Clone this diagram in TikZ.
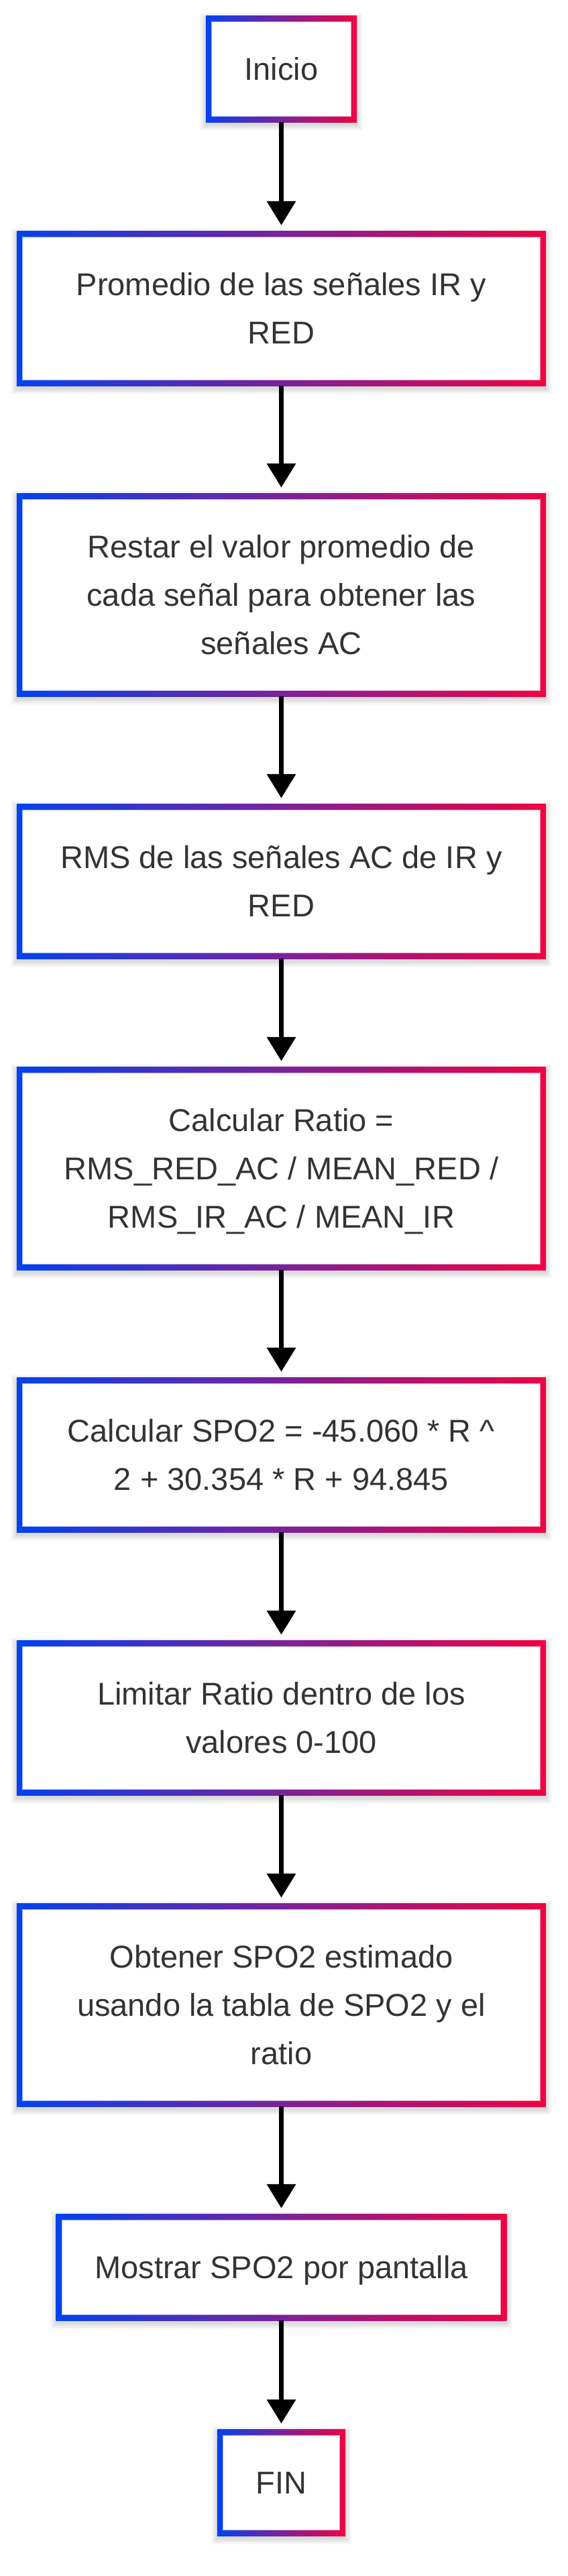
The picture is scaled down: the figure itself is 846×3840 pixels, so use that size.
\documentclass[tikz,border=0pt]{standalone}
\usepackage{fontspec}
\setmainfont{Liberation Sans}
\usetikzlibrary{arrows.meta,backgrounds}
\definecolor{gblue}{RGB}{3,66,240}
\definecolor{gred}{RGB}{240,2,66}
\definecolor{txtc}{RGB}{51,51,51}
\newcommand{\lnstrut}{\rule[-19.7pt]{0pt}{72pt}}
\tikzset{
  stepbox/.style={draw=none, inner xsep=57.5pt, inner ysep=43pt, align=center,
    text=txtc, font=\fontsize{47pt}{72pt}\selectfont},
  widebox/.style={stepbox, minimum width=789pt},
  flowarrow/.style={line width=7pt, -{Triangle[width=42pt,length=36pt]}, shorten >=9pt, black}
}
\newcommand{\gbox}[1]{%
  \begin{scope}[on background layer]
    \foreach \k in {1,...,9}{
      \fill[black,opacity=0.017] ([shift={(-\k*1pt,-\k*1pt-4pt)}]#1.south west) rectangle ([shift={(\k*1pt,\k*1pt-4pt)}]#1.north east);
    }
    \shade[left color=gblue, right color=gred] (#1.south west) rectangle (#1.north east);
    \fill[white,opacity=0.6] ([shift={(8pt,8pt)}]#1.south west) rectangle ([shift={(-8pt,-8pt)}]#1.north east);
    \fill[white] ([shift={(9.5pt,9.5pt)}]#1.south west) rectangle ([shift={(-9.5pt,-9.5pt)}]#1.north east);
  \end{scope}%
}
\begin{document}
\begin{tikzpicture}
\begin{scope}[on background layer]
\fill[white] (0pt,0pt) rectangle (846pt,-3840pt);
\end{scope}
\useasboundingbox (0pt,0pt) rectangle (846pt,-3840pt);

\node[stepbox] (n1) at (419.5pt,-103pt) {\lnstrut Inicio};
\node[widebox] (n2) at (419.5pt,-460pt) {\lnstrut Promedio de las señales IR y\\\lnstrut RED};
\node[widebox] (n3) at (419.5pt,-887pt) {\lnstrut Restar el valor promedio de\\\lnstrut cada señal para obtener las\\\lnstrut señales AC};
\node[widebox] (n4) at (419.5pt,-1314pt) {\lnstrut RMS de las señales AC de IR y\\\lnstrut RED};
\node[widebox] (n5) at (419.5pt,-1742pt) {\lnstrut Calcular Ratio =\\\lnstrut RMS\_RED\_AC / MEAN\_RED /\\\lnstrut RMS\_IR\_AC / MEAN\_IR};
\node[widebox] (n6) at (419.5pt,-2169pt) {\lnstrut Calcular SPO2 = -45.060 * R \textasciicircum\\\lnstrut 2 + 30.354 * R + 94.845};
\node[widebox] (n7) at (419.5pt,-2561pt) {\lnstrut Limitar Ratio dentro de los\\\lnstrut valores 0-100};
\node[widebox] (n8) at (419.5pt,-2989pt) {\lnstrut Obtener SPO2 estimado\\\lnstrut usando la tabla de SPO2 y el\\\lnstrut ratio};
\node[stepbox] (n9) at (419.5pt,-3380pt) {\lnstrut Mostrar SPO2 por pantalla};
\node[stepbox] (n10) at (419.5pt,-3701pt) {\lnstrut FIN};

\foreach \n in {n1,n2,n3,n4,n5,n6,n7,n8,n9,n10}{\gbox{\n}}

\draw[flowarrow] (n1.south) -- (n2.north);
\draw[flowarrow] (n2.south) -- (n3.north);
\draw[flowarrow] (n3.south) -- (n4.north);
\draw[flowarrow] (n4.south) -- (n5.north);
\draw[flowarrow] (n5.south) -- (n6.north);
\draw[flowarrow] (n6.south) -- (n7.north);
\draw[flowarrow] (n7.south) -- (n8.north);
\draw[flowarrow] (n8.south) -- (n9.north);
\draw[flowarrow] (n9.south) -- (n10.north);
\end{tikzpicture}
\end{document}
